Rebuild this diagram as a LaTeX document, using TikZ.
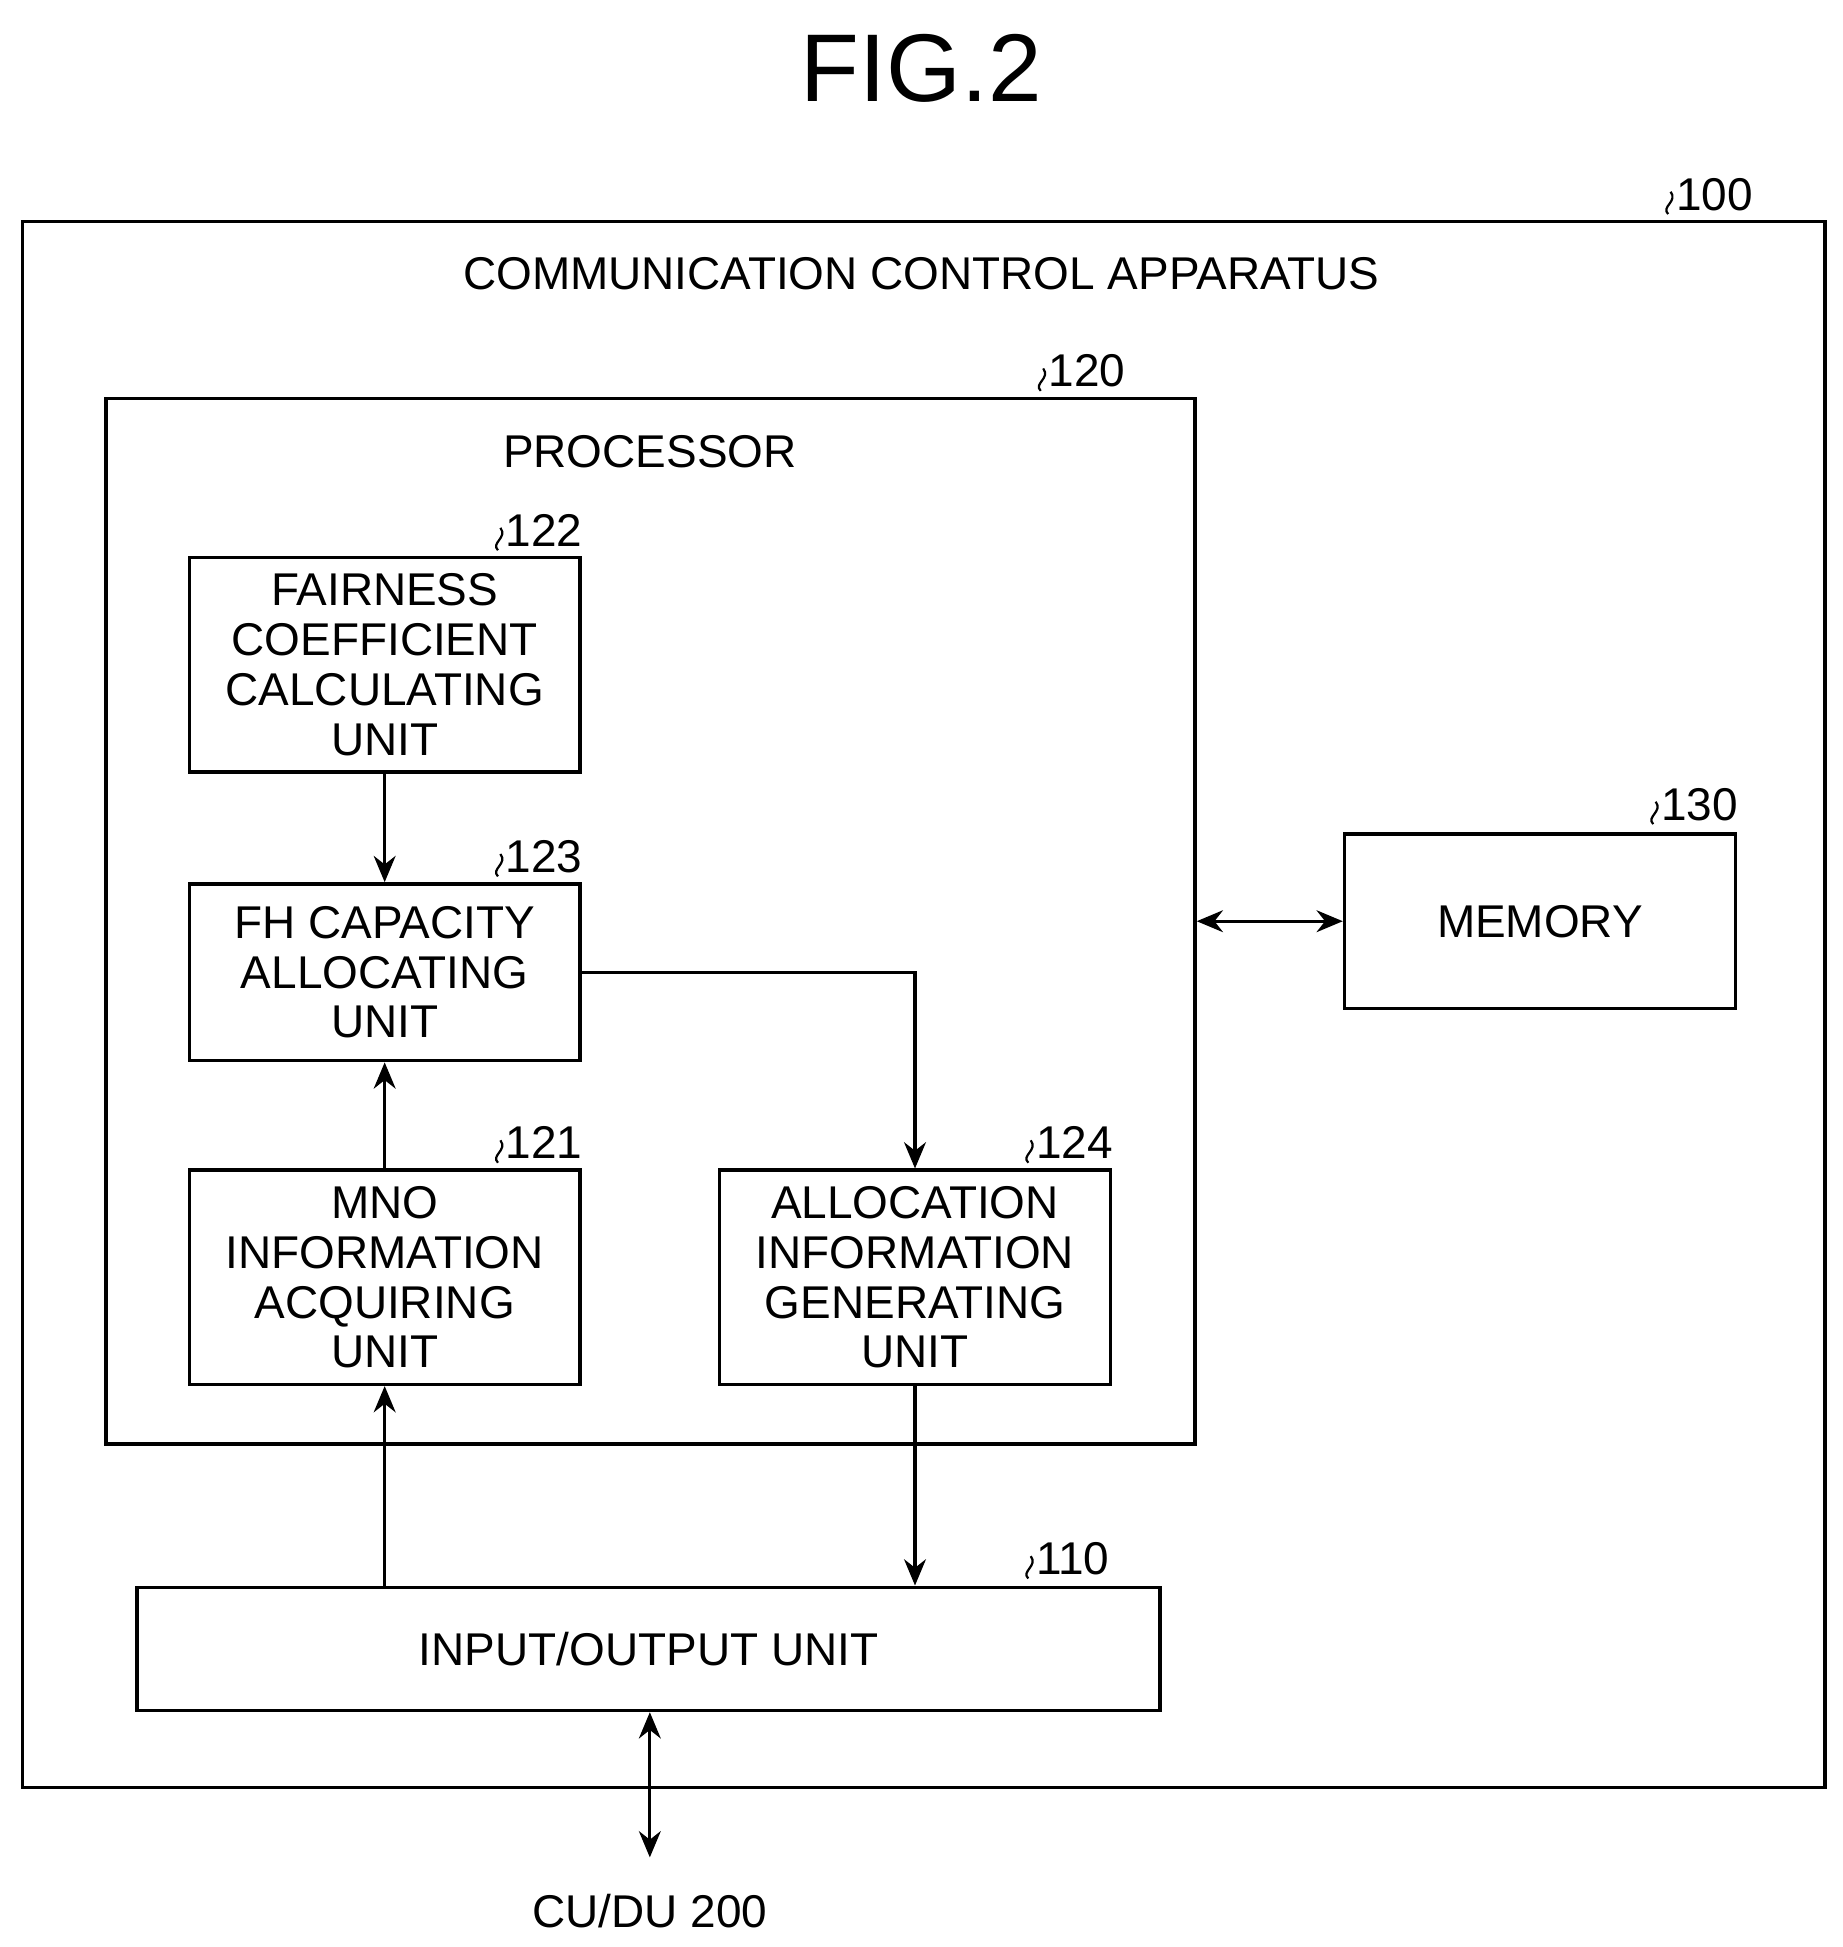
\documentclass[tikz,border=0pt]{standalone}
\usepackage{fontspec}
\setmainfont{Liberation Sans}
\usetikzlibrary{arrows.meta}
\tikzset{
  blk/.style={draw, line width=1.6pt, inner sep=0pt, align=center,
    font=\fontsize{21}{22.8}\selectfont},
  lbl/.style={font=\fontsize{21}{24}\selectfont, anchor=west, inner sep=0pt},
  arr/.style={line width=1.4pt, -{Stealth[length=12pt,width=10pt]}},
  biarr/.style={line width=1.4pt, {Stealth[length=12pt,width=10pt]}-{Stealth[length=12pt,width=10pt]}}
}
% reference numeral with small wavy leader
\newcommand{\refnum}[3]{%
  \draw[line width=1pt] (#1-4,#2+12) .. controls (#1-10,#2+6) and (#1+4,#2+2) .. (#1-2,#2-6);
  \node[lbl] (#3) at (#1+2,#2-4) {#3};}
\begin{document}
\begin{tikzpicture}[x=0.02cm,y=-0.02cm]
  \useasboundingbox (0,0) rectangle (1480,1564);
  \node[font=\fontsize{44}{48}\selectfont] (fig) at (740,55) {FIG.2};

  % apparatus
  \draw[line width=1.6pt] (18,178) rectangle (1466,1436);
  \node[font=\fontsize{21}{24}\selectfont] (title) at (740,220) {COMMUNICATION CONTROL APPARATUS};
  \refnum{1344}{160}{100}

  % processor
  \node[blk, minimum width=17.5cm, minimum height=16.8cm] (proc) at (522.5,740) {};
  \node[font=\fontsize{21}{24}\selectfont] (ptitle) at (522,363) {PROCESSOR};
  \refnum{840}{302}{120}

  % units
  \node[blk, minimum width=6.28cm, minimum height=3.44cm] (fair) at (309,534) {FAIRNESS\\COEFFICIENT\\CALCULATING\\UNIT};
  \refnum{404}{430}{122}
  \node[blk, minimum width=6.28cm, minimum height=2.84cm] (fh) at (309,781) {FH CAPACITY\\ALLOCATING\\UNIT};
  \refnum{404}{692}{123}
  \node[blk, minimum width=6.28cm, minimum height=3.44cm] (mno) at (309,1026) {MNO\\INFORMATION\\ACQUIRING\\UNIT};
  \refnum{404}{922}{121}
  \node[blk, minimum width=6.28cm, minimum height=3.44cm] (alloc) at (735,1026) {ALLOCATION\\INFORMATION\\GENERATING\\UNIT};
  \refnum{830}{922}{124}

  % memory and i/o
  \node[blk, minimum width=6.28cm, minimum height=2.8cm] (mem) at (1237,740) {MEMORY};
  \refnum{1332}{650}{130}
  \node[blk, minimum width=16.44cm, minimum height=1.98cm] (io) at (521,1324.5) {INPUT/OUTPUT UNIT};
  \refnum{830}{1256}{110}
  \node[font=\fontsize{21}{24}\selectfont] (cudu) at (522,1535) {CU/DU 200};
  \coordinate (ext) at (522,1492);

  % connections
  \draw[arr] (fair) -- (fh);
  \draw[arr] (mno) -- (fh);
  \draw[arr] (fh.east) -| (alloc.north);
  \draw[arr] (alloc.south) -- (alloc.south |- io.north);
  \draw[arr] (mno.south |- io.north) -- (mno.south);
  \draw[biarr] (proc.east) -- (mem.west);
  \draw[biarr] (io.south -| ext) -- (ext);
\end{tikzpicture}
\end{document}
